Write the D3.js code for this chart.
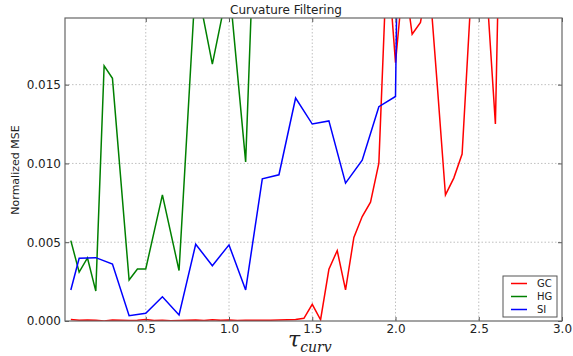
<!DOCTYPE html>
<html>
<head>
<meta charset="utf-8">
<script src="https://cdnjs.cloudflare.com/ajax/libs/d3/7.8.5/d3.min.js"></script>
<style>
    body { margin: 0; background: #fff; }
    svg { display: block; font-family: "DejaVu Sans", sans-serif; }
</style>
</head>
<body>
<div id="chart"></div>
<script>
// GC (red)
const gcX = [0.05, 0.10, 0.15, 0.20, 0.25, 0.30, 0.35, 0.40, 0.45, 0.50,
    0.55, 0.60, 0.65, 0.70, 0.75, 0.80, 0.85, 0.90, 0.95, 1.00,
    1.05, 1.10, 1.15, 1.20, 1.25, 1.30, 1.35, 1.40, 1.45, 1.50,
    1.55, 1.60, 1.65, 1.70, 1.75, 1.80, 1.85, 1.90, 1.95, 2.00,
    2.05, 2.10, 2.15, 2.20, 2.25, 2.30, 2.35, 2.40, 2.45, 2.50,
    2.55, 2.60, 2.65];
const gcY = [0.00010, 0.00005, 0.00006, 0.00005, 0.00000, 0.00006, 0.00004, 0.00003, 0.00005, 0.00009,
    0.00003, 0.00004, 0.00002, 0.00003, 0.00005, 0.00006, 0.00003, 0.00008, 0.00004, 0.00007,
    0.00003, 0.00005, 0.00004, 0.00005, 0.00005, 0.00006, 0.00008, 0.00010, 0.00017, 0.00106,
    0.00008, 0.00328, 0.00447, 0.00197, 0.00530, 0.00663, 0.00754, 0.01002, 0.02340, 0.01640,
    0.02210, 0.01820, 0.01895, 0.02200, 0.01510, 0.00800, 0.00907, 0.01060, 0.02000, 0.03000,
    0.02070, 0.01250, 0.03800];

// HG (green)
const hgX = [0.05, 0.10, 0.15, 0.20, 0.25, 0.30, 0.40, 0.45, 0.50, 0.60,
    0.70, 0.80, 0.90, 1.00, 1.10, 1.20];
const hgY = [0.00510, 0.00310, 0.00400, 0.00190, 0.01620, 0.01540, 0.00260, 0.00330, 0.00330, 0.00800,
    0.00320, 0.02170, 0.01630, 0.02150, 0.01010, 0.03900];

// SI (blue)
const siX = [0.05, 0.10, 0.15, 0.20, 0.30, 0.40, 0.50, 0.60, 0.70, 0.80,
    0.90, 1.00, 1.10, 1.20, 1.30, 1.40, 1.50, 1.60, 1.70, 1.80,
    1.90, 2.00, 2.10];
const siY = [0.00197, 0.00398, 0.00400, 0.00402, 0.00362, 0.00034, 0.00049, 0.00154, 0.00038, 0.00487,
    0.00351, 0.00483, 0.00197, 0.00902, 0.00928, 0.01415, 0.01250, 0.01270, 0.00875, 0.01020,
    0.01360, 0.01425, 0.09500];

const xTicks = [0.5, 1.0, 1.5, 2.0, 2.5, 3.0];
const yTicks = [0.000, 0.005, 0.010, 0.015];

const series = [
    { name: 'GC', color: '#ff0000', x: gcX, y: gcY },
    { name: 'HG', color: '#008000', x: hgX, y: hgY },
    { name: 'SI', color: '#0000ff', x: siX, y: siY }
];

const width = 573, height = 356;
const margin = { top: 18, right: 11, bottom: 35, left: 65 };
const w = width - margin.left - margin.right;
const h = height - margin.top - margin.bottom;

const svg = d3.select('#chart').append('svg')
    .attr('width', width)
    .attr('height', height);

const x = d3.scaleLinear().domain([0.015, 3.0]).range([0, w]);
const y = d3.scaleLinear().domain([0, 0.01923]).range([h, 0]);

const g = svg.append('g')
    .attr('transform', `translate(${margin.left},${margin.top})`);

// clip content outside the plot
svg.append('defs').append('clipPath')
    .attr('id', 'clip')
    .append('rect')
    .attr('width', w)
    .attr('height', h);

// grid
g.append('g').selectAll('line.vgrid')
    .data(xTicks.filter(d => d < 3.0))
    .join('line')
    .attr('x1', d => x(d)).attr('x2', d => x(d))
    .attr('y1', 0).attr('y2', h)
    .attr('stroke', '#b0b0b0')
    .attr('stroke-width', 0.8)
    .attr('stroke-dasharray', '1.5,2');

g.append('g').selectAll('line.hgrid')
    .data(yTicks.filter(d => d > 0))
    .join('line')
    .attr('x1', 0).attr('x2', w)
    .attr('y1', d => y(d)).attr('y2', d => y(d))
    .attr('stroke', '#b0b0b0')
    .attr('stroke-width', 0.8)
    .attr('stroke-dasharray', '1.5,2');

// lines
const line = d3.line()
    .x(d => x(d[0]))
    .y(d => y(d[1]));

const lines = g.append('g').attr('clip-path', 'url(#clip)');
series.forEach(s => {
    lines.append('path')
        .datum(s.x.map((v, i) => [v, s.y[i]]))
        .attr('fill', 'none')
        .attr('stroke', s.color)
        .attr('stroke-width', 1.5)
        .attr('stroke-linejoin', 'miter')
        .attr('d', line);
});

// axes (ticks inward)
const xAxis = g.append('g')
    .attr('transform', `translate(0,${h})`)
    .call(d3.axisBottom(x).tickValues(xTicks).tickFormat(d3.format('.1f')).tickSize(-4).tickPadding(3));
const yAxis = g.append('g')
    .call(d3.axisLeft(y).tickValues(yTicks).tickFormat(d3.format('.3f')).tickSize(-4).tickPadding(4));
g.append('g')
    .call(d3.axisTop(x).tickValues(xTicks).tickFormat('').tickSize(-4));
g.append('g')
    .attr('transform', `translate(${w},0)`)
    .call(d3.axisRight(y).tickValues(yTicks).tickFormat('').tickSize(-4));

g.selectAll('.domain').remove();
g.selectAll('.tick line').attr('stroke', '#555');
g.selectAll('.tick text')
    .attr('font-family', '"DejaVu Sans", sans-serif')
    .attr('font-size', 12)
    .attr('fill', '#222');

// frame
g.append('rect')
    .attr('width', w)
    .attr('height', h)
    .attr('fill', 'none')
    .attr('stroke', '#666')
    .attr('stroke-width', 1.2);

// title
svg.append('text')
    .attr('x', 286)
    .attr('y', 14)
    .attr('text-anchor', 'middle')
    .attr('font-size', 12)
    .attr('fill', '#222')
    .text('Curvature Filtering');

// y label
svg.append('text')
    .attr('transform', 'translate(19,170) rotate(-90)')
    .attr('text-anchor', 'middle')
    .attr('font-size', 11)
    .attr('fill', '#222')
    .text('Normalized MSE');

// x label
const xl = svg.append('text')
    .attr('x', 288)
    .attr('y', 347)
    .attr('font-family', '"DejaVu Serif", serif')
    .attr('font-style', 'italic')
    .attr('fill', '#222');
xl.append('tspan').attr('font-size', 22).text('τ');
xl.append('tspan').attr('font-size', 14).attr('dy', 5).text('curv');

// legend
const lg = svg.append('g').attr('transform', 'translate(503,276)');
lg.append('rect')
    .attr('width', 54)
    .attr('height', 41)
    .attr('fill', '#fff')
    .attr('stroke', '#555')
    .attr('stroke-width', 1);
series.forEach((s, i) => {
    const yy = 7.5 + i * 13;
    lg.append('line')
        .attr('x1', 8).attr('x2', 24)
        .attr('y1', yy).attr('y2', yy)
        .attr('stroke', s.color)
        .attr('stroke-width', 1.5);
    lg.append('text')
        .attr('x', 34)
        .attr('y', yy)
        .attr('dy', '0.35em')
        .attr('font-size', 10)
        .attr('fill', '#222')
        .text(s.name);
});
</script>
</body>
</html>
